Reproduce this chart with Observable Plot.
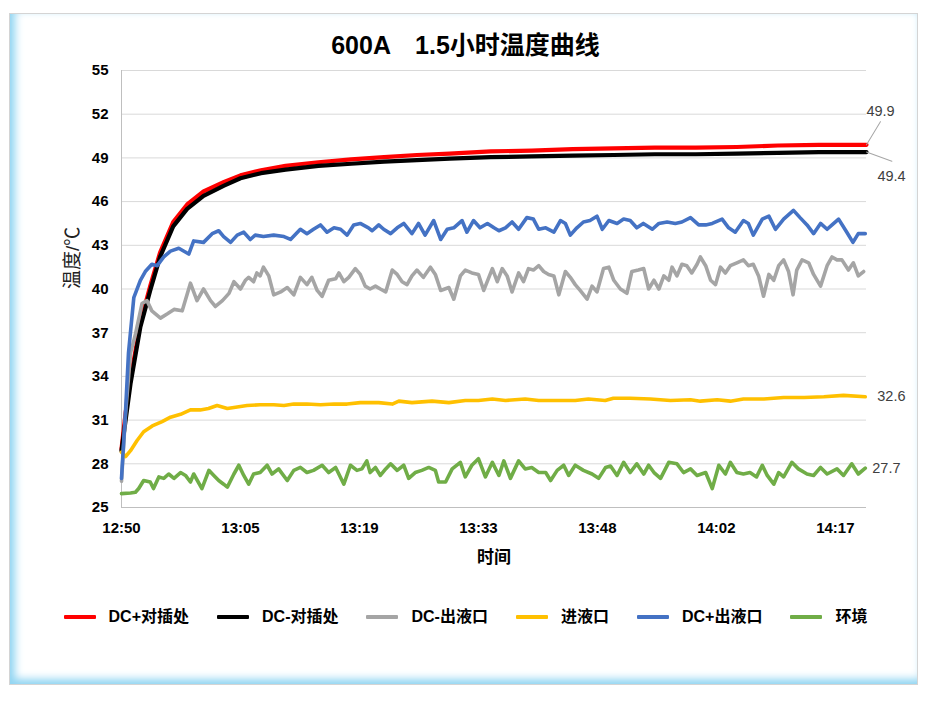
<!DOCTYPE html>
<html><head><meta charset="utf-8">
<script src="https://cdn.jsdelivr.net/npm/d3@7"></script>
<script src="https://cdn.jsdelivr.net/npm/@observablehq/plot@0.6"></script>
<style>
body{margin:0;background:#fff;}
#wrap{position:relative;width:931px;height:701px;overflow:hidden;font-family:"Liberation Sans","Noto Sans CJK SC",sans-serif;}
#frame{position:absolute;left:9px;top:13px;width:909px;height:672px;box-sizing:border-box;border:1px solid #d4d4d4;background:#fff;
 box-shadow: inset 9px 0 8px -4px #92d5f2, inset 0 -9px 8px -4px #92d5f2;}
#title{position:absolute;left:0;top:30px;width:931px;text-align:center;font-weight:bold;font-size:25px;color:#000;line-height:30px;white-space:pre;}
#chart{position:absolute;left:0;top:0;}
#legend{position:absolute;left:0;top:605px;width:931px;display:flex;justify-content:center;align-items:center;font-weight:bold;font-size:16px;color:#000;line-height:24px;}
#legend .it{display:flex;align-items:center;margin:0 14px;}
#legend .sw{width:32px;height:4px;margin-right:13px;border-radius:1px;}
</style>
</head><body>
<div id="wrap">
  <div id="frame"></div>
  <div id="chart"></div>
  <div id="title"></div>
  <div id="legend"></div>
</div>
<script>
const titleText = "600A\u30001.5小时温度曲线";
const yLabel = "温度/℃";
const xLabel = "时间";
const xTicks = [0, 14.5, 29, 43.5, 58, 72.5, 87];
const xTickLabels = ["12:50","13:05","13:19","13:33","13:48","14:02","14:17"];
const yTicks = [25,28,31,34,37,40,43,46,49,52,55];
const seriesNames = ["DC+对插处","DC-对插处","DC-出液口","进液口","DC+出液口","环境"];
const seriesColors = ["#ff0000","#000000","#a5a5a5","#ffc000","#4472c4","#70ad47"];

// [minutes after 12:50, °C]
const red = [[0,29.0],[0.5,31.5],[1.1,33.8],[2.3,37.7],[3.5,40.2],[4.7,42.5],[6.3,44.6],[8,45.8],[10,46.7],[12.5,47.35],[14.5,47.8],[17,48.15],[20,48.45],[24,48.7],[28,48.9],[32,49.05],[36,49.2],[40,49.3],[45,49.45],[50,49.5],[55,49.6],[60,49.65],[65,49.7],[70,49.7],[75,49.75],[80,49.85],[85,49.9],[90.8,49.9]];
const black = [[0,28.9],[0.5,31.0],[1.1,33.5],[2.3,37.4],[3.5,39.9],[4.7,42.2],[6.3,44.3],[8,45.5],[10,46.4],[12.5,47.1],[14.5,47.6],[17,47.95],[20,48.2],[24,48.45],[28,48.6],[32,48.75],[36,48.85],[40,48.95],[45,49.05],[50,49.1],[55,49.15],[60,49.2],[65,49.25],[70,49.25],[75,49.3],[80,49.35],[85,49.4],[90.8,49.4]];
const gray = [[0,26.8],[0.5,31.5],[1.1,35.6],[1.7,36.9],[2.5,39.0],[3.1,39.2],[3.7,38.5],[4.75,38.0],[5.6,38.3],[6.4,38.6],[7.4,38.5],[8.4,40.4],[9.2,39.2],[10.0,40.0],[10.85,39.2],[11.45,38.8],[12.3,39.2],[13.1,39.7],[13.7,40.5],[14.5,40.0],[15.1,40.6],[15.5,40.8],[16.1,40.5],[16.5,41.1],[16.9,40.9],[17.3,41.5],[17.95,40.9],[18.55,39.6],[19.4,39.8],[20.2,40.1],[21.0,39.6],[21.8,40.8],[22.6,40.3],[23.2,40.8],[23.85,39.9],[24.45,39.5],[25.25,40.6],[26.1,40.7],[26.5,41.1],[27.1,40.5],[27.7,40.8],[28.5,41.4],[29.1,41.0],[29.7,40.2],[30.3,40.0],[30.95,40.2],[31.55,40.0],[32.2,39.8],[33.0,41.3],[33.6,41.0],[34.2,40.5],[34.8,40.3],[35.4,40.9],[36.0,41.3],[36.8,40.8],[37.65,41.5],[38.25,41.0],[38.9,39.9],[39.9,40.1],[40.5,39.3],[41.3,40.9],[41.9,41.3],[42.7,41.1],[43.5,41.0],[44.15,39.9],[45.2,41.4],[45.8,40.5],[46.4,41.4],[47.0,40.9],[47.6,39.8],[48.4,41.1],[49.0,40.5],[49.6,41.4],[50.2,41.3],[50.85,41.6],[51.45,41.2],[52.05,41.0],[52.7,40.9],[53.3,39.6],[54.1,41.2],[54.7,40.8],[55.3,40.3],[55.9,39.9],[56.75,39.3],[57.35,40.2],[57.95,39.8],[58.75,41.4],[59.4,41.5],[60.0,40.6],[60.8,40.0],[61.6,39.7],[62.2,41.2],[63.0,41.3],[63.65,41.4],[64.25,40.0],[64.9,40.6],[65.5,40.0],[66.1,40.9],[66.7,40.6],[67.1,41.5],[67.7,40.9],[68.3,41.7],[68.9,41.6],[69.5,41.1],[70.15,41.7],[70.55,42.2],[71.2,41.6],[71.8,40.6],[72.4,40.3],[73.0,41.5],[73.6,41.1],[74.2,41.6],[75.0,41.8],[75.8,42.0],[76.4,41.6],[77.0,41.7],[77.65,40.9],[78.25,39.5],[78.9,41.0],[79.5,40.6],[80.1,41.6],[80.7,42.0],[81.3,41.2],[81.85,39.6],[82.3,41.3],[82.95,42.0],[83.75,41.8],[84.35,41.0],[85.2,40.2],[86.0,41.6],[86.6,42.2],[87.2,42.0],[87.8,42.0],[88.6,41.3],[89.2,41.8],[89.8,40.9],[90.45,41.2]];
const yellow = [[0,28.8],[0.5,28.5],[1.1,28.9],[1.9,29.6],[2.7,30.2],[3.75,30.6],[4.95,30.9],[5.97,31.2],[7.2,31.4],[8.4,31.7],[9.6,31.7],[10.6,31.8],[11.65,32.0],[12.9,31.8],[14.1,31.9],[15.3,32.0],[16.9,32.05],[18.55,32.05],[19.8,32.0],[21.0,32.1],[22.6,32.1],[24.25,32.05],[25.9,32.1],[27.5,32.1],[29.1,32.2],[31.35,32.2],[33.0,32.1],[33.8,32.3],[35.4,32.2],[37.85,32.3],[39.9,32.2],[41.9,32.35],[43.5,32.35],[45.2,32.45],[46.8,32.35],[49.2,32.45],[50.85,32.35],[53.3,32.35],[55.3,32.35],[56.9,32.45],[58.95,32.35],[59.95,32.5],[62.0,32.5],[64.45,32.45],[66.9,32.35],[69.35,32.4],[70.55,32.3],[72.6,32.4],[74.2,32.3],[75.8,32.45],[78.3,32.45],[80.7,32.55],[83.2,32.55],[85.6,32.6],[88.0,32.7],[90.65,32.6]];
const blue = [[0,27.0],[0.5,31.7],[0.85,35.6],[1.5,39.4],[2.3,40.6],[2.9,41.2],[3.7,41.7],[4.35,41.6],[5.15,42.2],[5.97,42.6],[6.98,42.8],[8.2,42.4],[8.8,43.3],[10.0,43.2],[11.05,43.8],[11.85,44.0],[12.45,43.6],[13.3,43.2],[14.1,43.7],[14.9,43.9],[15.7,43.4],[16.3,43.7],[17.3,43.6],[18.55,43.7],[19.8,43.6],[20.6,43.4],[21.8,44.1],[22.6,43.8],[23.4,44.1],[24.25,44.4],[25.05,43.9],[25.9,44.2],[26.7,44.1],[27.5,43.7],[28.3,44.4],[29.1,44.5],[30.1,44.2],[30.55,44.0],[31.35,44.4],[31.95,44.1],[32.8,43.8],[33.6,44.2],[34.4,44.5],[35.4,43.8],[36.2,44.5],[37.0,43.7],[38.05,44.7],[38.9,43.4],[39.7,44.1],[40.5,44.2],[41.5,44.7],[42.1,43.9],[42.9,44.7],[43.7,44.2],[44.6,44.5],[45.4,44.2],[46.0,44.0],[46.8,44.2],[47.6,44.6],[48.4,44.1],[49.4,44.9],[50.2,44.8],[50.85,44.1],[51.7,44.2],[52.7,43.9],[53.5,44.7],[54.1,44.5],[54.7,43.7],[55.5,44.2],[56.3,44.6],[57.1,44.7],[57.95,45.0],[58.6,44.1],[59.4,44.7],[60.4,44.5],[61.2,44.8],[62.0,44.7],[62.8,44.2],[63.6,44.5],[64.7,44.1],[65.5,44.5],[66.5,44.6],[67.5,44.5],[68.3,44.6],[69.35,44.9],[70.35,44.4],[71.2,44.4],[72.0,44.5],[73.2,44.8],[74.0,44.2],[74.8,43.9],[75.8,44.7],[76.4,44.5],[77.0,43.7],[78.1,44.8],[78.9,45.0],[79.7,44.1],[80.7,44.8],[81.9,45.4],[82.7,44.9],[83.55,44.4],[84.35,43.8],[85.2,44.5],[86.0,44.1],[86.6,44.4],[87.4,44.8],[88.4,43.9],[89.15,43.2],[89.8,43.8],[90.65,43.8]];
const green = [[0,25.95],[1.1,26.0],[1.7,26.05],[2.1,26.3],[2.7,26.85],[3.5,26.75],[3.9,26.3],[4.55,27.1],[5.15,27.0],[5.75,27.3],[6.4,27.0],[7.2,27.4],[7.8,27.2],[8.4,26.75],[8.8,27.3],[9.8,26.3],[10.65,27.55],[11.25,27.2],[11.85,26.85],[12.45,26.6],[12.9,26.4],[13.7,27.3],[14.3,27.9],[14.9,27.2],[15.5,26.6],[16.1,27.3],[16.9,27.4],[17.75,27.9],[18.35,27.3],[19.15,27.65],[20.2,26.85],[21.0,27.55],[21.8,27.75],[22.6,27.4],[23.4,27.55],[24.45,27.9],[25.25,27.4],[26.1,27.75],[27.1,26.6],[27.9,27.9],[28.7,27.55],[29.3,27.65],[29.9,28.2],[30.3,27.4],[30.95,27.75],[31.55,27.2],[32.2,27.65],[32.8,28.0],[33.6,27.55],[34.4,27.9],[35.0,27.0],[35.8,27.4],[36.6,27.55],[37.45,27.75],[38.25,27.55],[38.65,26.75],[39.5,26.75],[40.3,27.65],[41.3,28.1],[41.9,27.1],[42.7,27.9],[43.5,28.35],[44.35,27.1],[45.2,28.1],[46.0,27.2],[46.6,28.2],[47.4,27.0],[48.4,28.2],[49.2,27.65],[50.0,27.75],[50.85,27.4],[51.7,27.4],[52.3,26.85],[53.1,27.55],[53.9,27.9],[54.5,27.2],[55.3,27.9],[56.3,27.55],[57.35,27.3],[58.15,27.0],[59.0,27.75],[59.6,27.85],[60.4,27.2],[61.2,28.1],[62.0,27.4],[62.8,28.0],[63.65,27.3],[64.25,27.9],[64.9,27.4],[65.7,27.0],[66.7,28.1],[67.7,28.0],[68.5,27.4],[69.35,27.65],[70.15,27.2],[71.2,27.4],[72.0,26.3],[72.8,27.9],[73.6,27.3],[74.2,28.1],[75.0,27.4],[75.8,27.3],[76.6,27.4],[77.4,27.1],[78.1,27.9],[78.7,27.2],[79.5,26.6],[80.1,27.4],[80.7,27.1],[81.7,28.1],[82.5,27.65],[83.55,27.3],[84.35,27.2],[85.2,27.75],[86.0,27.3],[87.2,27.65],[88.0,27.2],[89.0,28.0],[89.8,27.3],[90.65,27.7]];

const seriesData = [red, black, gray, yellow, blue, green];
const seriesWidths = [4.2, 4.2, 3.6, 3.6, 3.6, 3.6];

document.getElementById("title").textContent = titleText;

const leaderShape = {draw(context, l) { context.moveTo(0, 0); context.lineTo(0, -l); }};
const last = (arr) => [arr[arr.length - 1]];
const fmt = d => d[1].toFixed(1);
const labelStyle = {x: d => d[0], y: d => d[1], text: fmt, fill: "#404040", fontSize: 14.5, fontWeight: "normal"};

const marks = [
  Plot.gridY(yTicks.filter(v => v > 25), {stroke: "#d9d9d9", strokeOpacity: 1, strokeWidth: 1}),
  Plot.ruleY([25], {stroke: "#bfbfbf", strokeWidth: 1}),
  Plot.ruleX([0], {stroke: "#bfbfbf", strokeWidth: 1}),
  Plot.axisY({ticks: yTicks, tickSize: 0, tickPadding: 13, fontSize: 15, fontWeight: "bold", fill: "#000", label: null}),
  Plot.axisX({ticks: xTicks, tickFormat: d => xTickLabels[xTicks.indexOf(d)], tickSize: 0, tickPadding: 15, fontSize: 15, fontWeight: "bold", fill: "#000", label: null}),
  Plot.text([xLabel], {frameAnchor: "bottom", dy: 55, text: d => d, fontSize: 17, fontWeight: "bold", fill: "#000"}),
  Plot.text([yLabel], {frameAnchor: "left", dx: -49, rotate: -90, text: d => d, fontSize: 19, fill: "#222"}),
];
seriesData.forEach((s, i) => {
  marks.push(Plot.line(s, {x: d => d[0], y: d => d[1], stroke: seriesColors[i], strokeWidth: seriesWidths[i], strokeLinejoin: "round", strokeLinecap: "round"}));
});
marks.push(
  Plot.vector(last(red), {x: d => d[0], y: d => d[1], length: 27, rotate: 31, anchor: "start", shape: leaderShape, stroke: "#a6a6a6", strokeWidth: 1}),
  Plot.vector(last(black), {x: d => d[0], y: d => d[1], length: 27, rotate: 110, anchor: "start", shape: leaderShape, stroke: "#a6a6a6", strokeWidth: 1}),
  Plot.text(last(red), {...labelStyle, dx: 14, dy: -33}),
  Plot.text(last(black), {...labelStyle, dx: 25, dy: 24}),
  Plot.text(last(yellow), {...labelStyle, dx: 12, textAnchor: "start"}),
  Plot.text(last(green), {...labelStyle, dx: 7, textAnchor: "start"})
);

const plot = Plot.plot({
  width: 931, height: 701,
  marginLeft: 121, marginRight: 65, marginTop: 70, marginBottom: 194,
  style: {background: "transparent", overflow: "visible", fontFamily: "'Liberation Sans','Noto Sans CJK SC',sans-serif"},
  x: {domain: [0, 90.8]},
  y: {domain: [25, 55]},
  marks
});
document.getElementById("chart").appendChild(plot);

const legend = document.getElementById("legend");
seriesNames.forEach((n, i) => {
  const it = document.createElement("div"); it.className = "it";
  const sw = document.createElement("div"); sw.className = "sw"; sw.style.background = seriesColors[i];
  const tx = document.createElement("span"); tx.textContent = n;
  it.appendChild(sw); it.appendChild(tx); legend.appendChild(it);
});
</script>
</body></html>
